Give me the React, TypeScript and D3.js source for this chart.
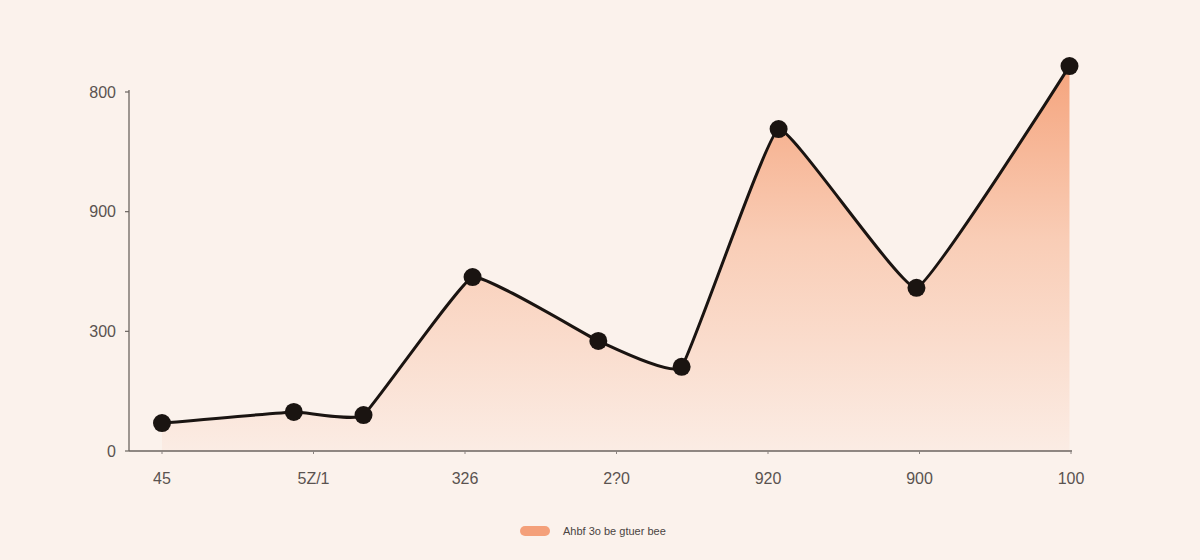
import React, { useEffect } from "react";
import * as d3 from "d3";

const xLabels = ["45", "5Z/1", "326", "2?0", "920", "900", "100"];
const yTickValues = [0, 300, 600, 900];
const yTickLabels = ["0", "300", "900", "800"];
const pointX = [0, 0.87, 1.33, 2.05, 2.88, 3.43, 4.07, 4.98, 5.99];
const pointY = [70, 98, 90, 436, 276, 211, 807, 409, 965];
const legendLabel = "Ahbf 3o be gtuer bee";

const W = 1200;
const H = 560;

export default function App() {
  useEffect(() => {
    document.body.style.margin = "0";
  }, []);

  const x = d3.scaleLinear().domain([0, 6]).range([162, 1071]);
  const y = d3.scaleLinear().domain([0, 900]).range([451, 92]);
  const data = pointX.map((v, i) => ({ x: v, y: pointY[i] }));
  const curve = d3.curveCardinal.tension(0.7);

  const line = d3
    .line<{ x: number; y: number }>()
    .x((d) => x(d.x))
    .y((d) => y(d.y))
    .curve(curve);
  const area = d3
    .area<{ x: number; y: number }>()
    .x((d) => x(d.x))
    .y0(y(0))
    .y1((d) => y(d.y))
    .curve(curve);

  const axisLeft = 129;
  const axisRight = 1072;
  const font = "'Liberation Sans', Arial, sans-serif";

  return (
    <svg width={W} height={H} style={{ display: "block" }}>
      <defs>
        <linearGradient id="fillGrad" gradientUnits="userSpaceOnUse" x1="0" x2="0" y1={y(965)} y2={y(0)}>
          <stop offset="0" stopColor="#f5a47d" />
          <stop offset="0.45" stopColor="#f9cdb6" />
          <stop offset="1" stopColor="#fbece4" />
        </linearGradient>
      </defs>
      <rect width={W} height={H} fill="#fbf2ec" />
      <path d={area(data) || ""} fill="url(#fillGrad)" />
      <line x1={axisLeft} x2={axisLeft} y1={y(900) - 2} y2={y(0)} stroke="#6b6460" strokeWidth={1.3} />
      <line x1={axisLeft} x2={axisRight} y1={y(0)} y2={y(0)} stroke="#6b6460" strokeWidth={1.3} />
      {yTickValues.map((v, i) => (
        <g key={"yt" + i}>
          <line x1={axisLeft - 4} x2={axisLeft} y1={y(v)} y2={y(v)} stroke="#6b6460" strokeWidth={1.2} />
          <text
            x={116}
            y={y(v)}
            dy="0.35em"
            textAnchor="end"
            fontFamily={font}
            fontSize={16}
            fill="#5a5350"
          >
            {yTickLabels[i]}
          </text>
        </g>
      ))}
      {xLabels.map((l, i) => (
        <g key={"xt" + i}>
          <line x1={x(i)} x2={x(i)} y1={y(0)} y2={y(0) + 3} stroke="#8a8380" strokeWidth={1} />
          <text
            x={x(i)}
            y={478}
            dy="0.35em"
            textAnchor="middle"
            fontFamily={font}
            fontSize={16}
            fill="#5a5350"
          >
            {l}
          </text>
        </g>
      ))}
      <path d={line(data) || ""} fill="none" stroke="#1a1411" strokeWidth={3} strokeLinejoin="round" />
      {data.map((d, i) => (
        <circle key={"p" + i} cx={x(d.x)} cy={y(d.y)} r={9} fill="#1a1411" />
      ))}
      <rect x={520} y={526} width={30} height={10} rx={5} fill="#f4a07a" />
      <text x={563} y={531} dy="0.35em" fontFamily={font} fontSize={11} fill="#4a4442">
        {legendLabel}
      </text>
    </svg>
  );
}
